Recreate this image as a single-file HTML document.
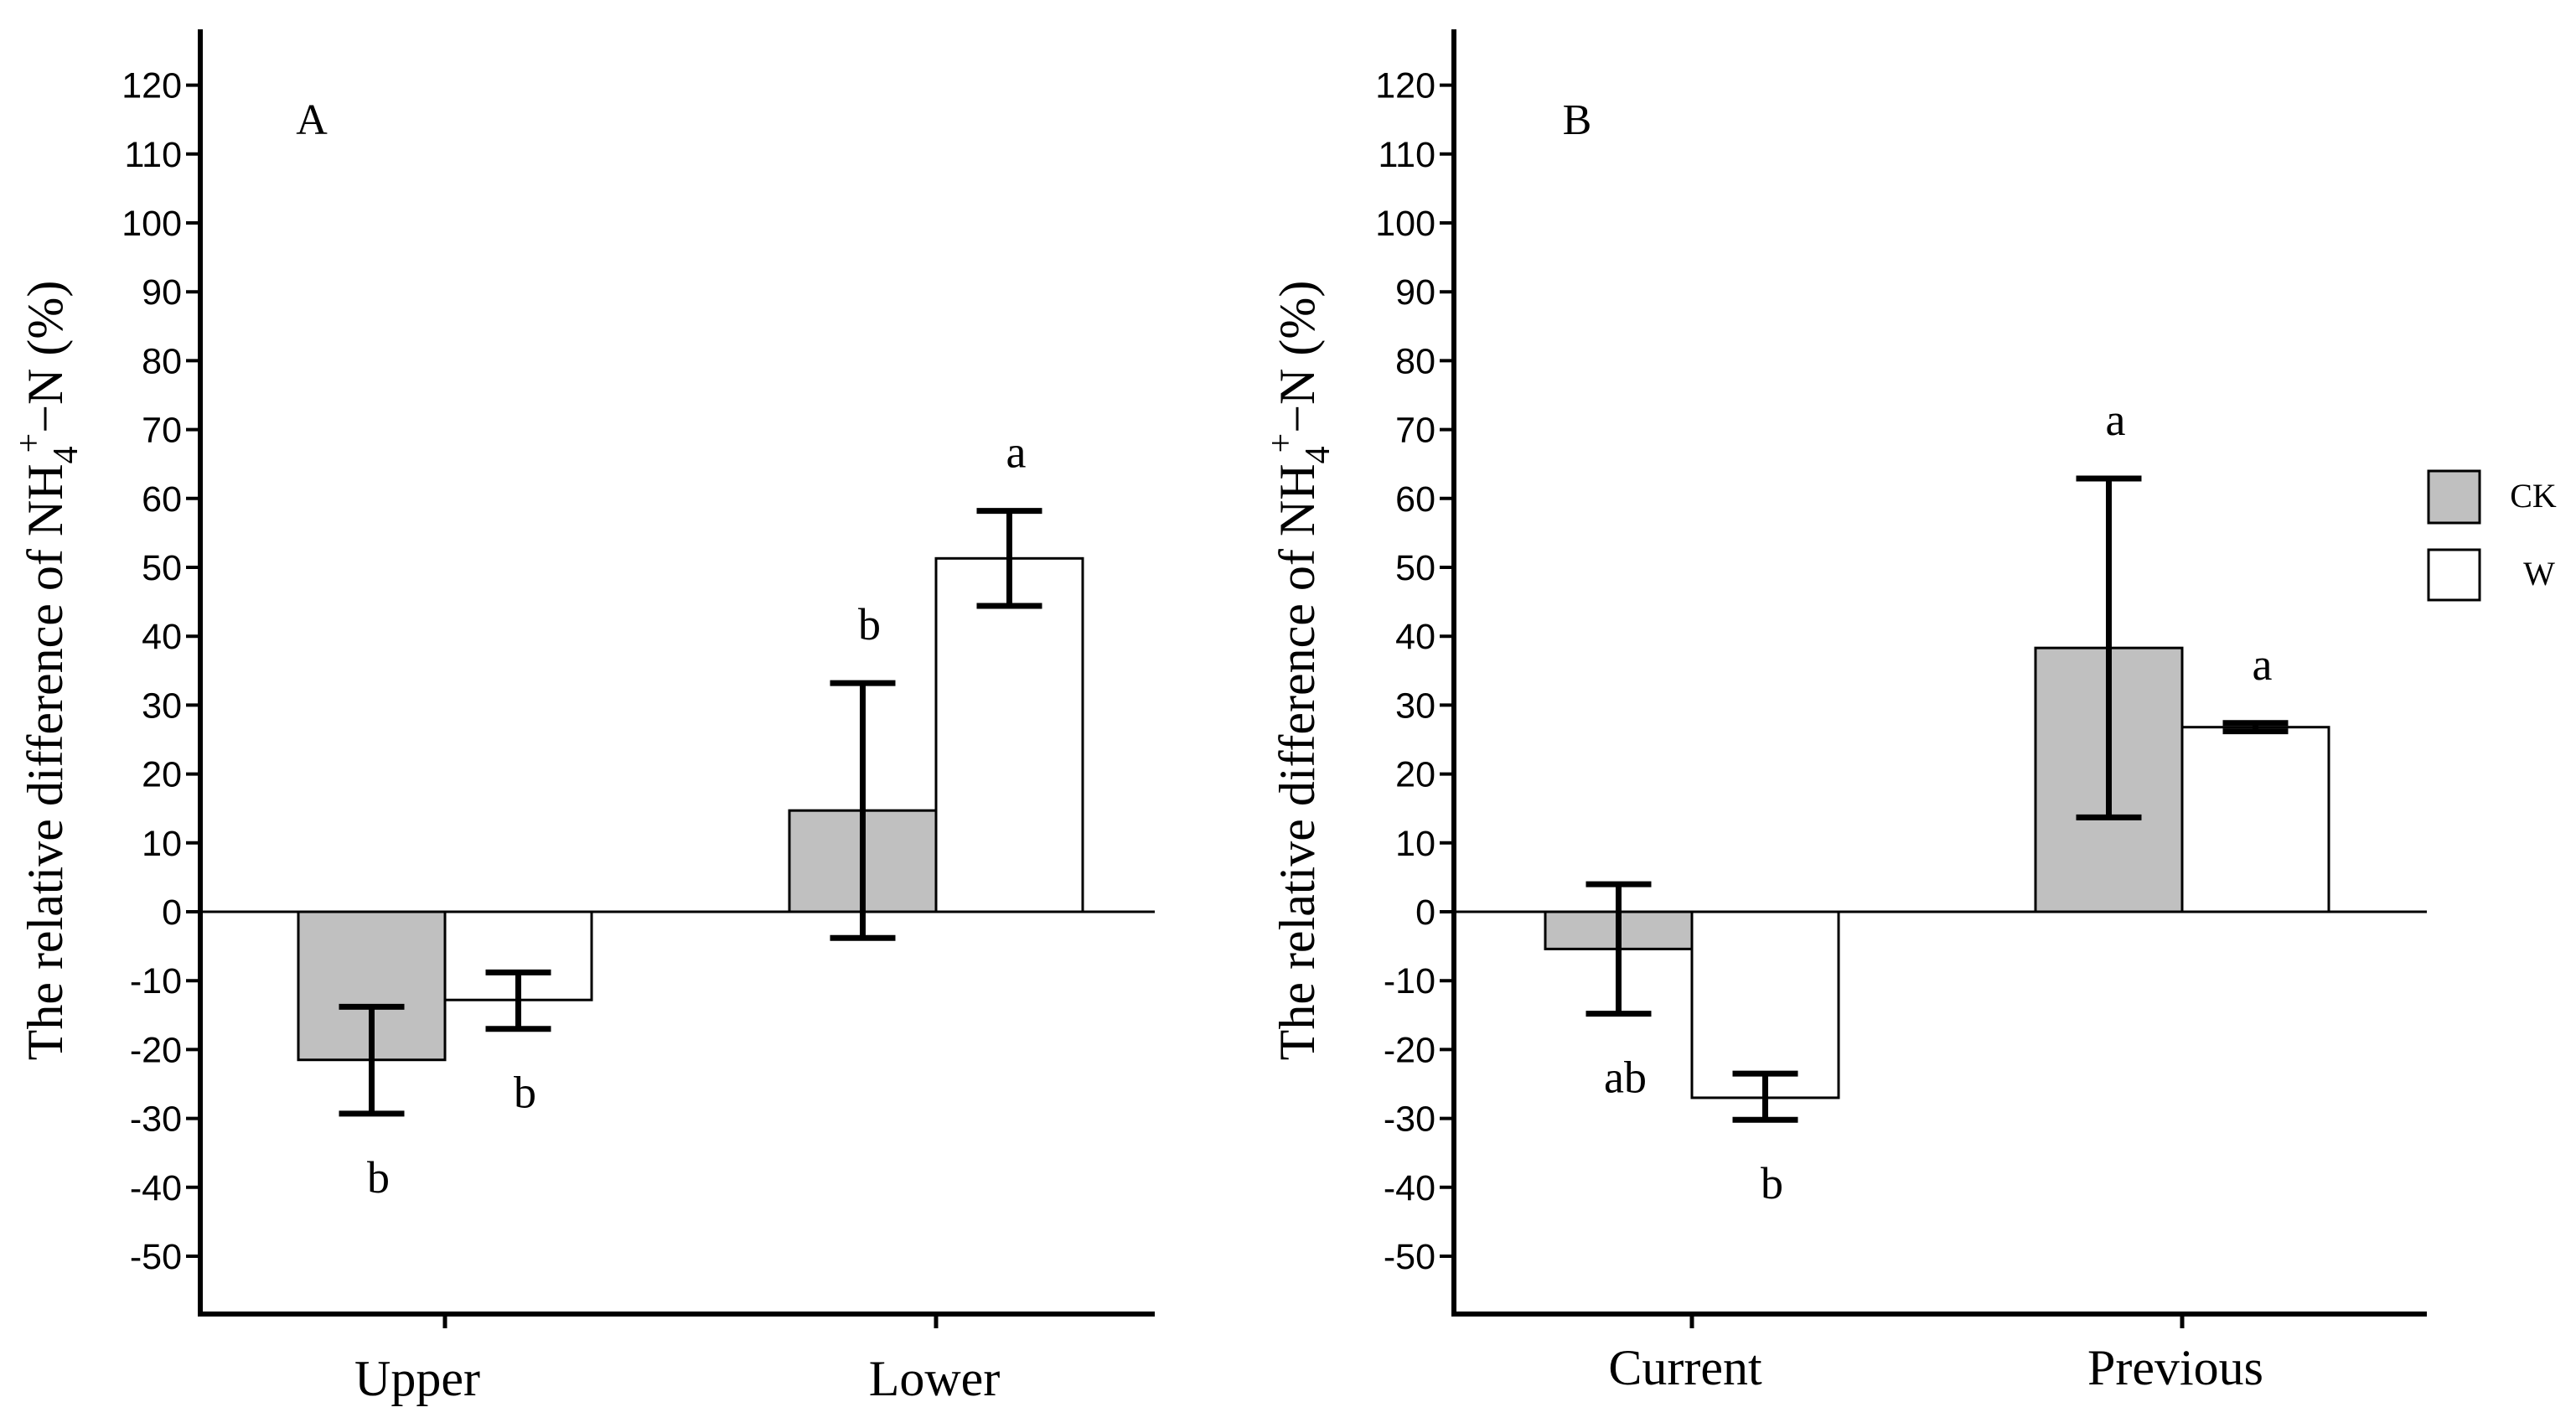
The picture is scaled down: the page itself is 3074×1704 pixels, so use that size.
<!DOCTYPE html>
<html><head><meta charset="utf-8"><style>html,body{margin:0;padding:0;background:#fff}svg{display:block}</style></head>
<body>
<svg id="chart" xmlns="http://www.w3.org/2000/svg" width="3074" height="1704" viewBox="0 0 3074 1704"></svg>
<script>
const ticks = [120,110,100,90,80,70,60,50,40,30,20,10,0,-10,-20,-30,-40,-50];
const catsA = ["Upper","Lower"];
const ckA = [-21.5, 14.7];
const ckAlo = [-29.3, -3.8];
const ckAhi = [-13.8, 33.2];
const wA = [-12.8, 51.3];
const wAlo = [-17.0, 44.4];
const wAhi = [-8.8, 58.2];
const ckAsig = ["b","b"];
const wAsig = ["b","a"];
const catsB = ["Current","Previous"];
const ckB = [-5.4, 38.3];
const ckBlo = [-14.8, 13.7];
const ckBhi = [4.0, 62.9];
const wB = [-27.0, 26.8];
const wBlo = [-30.2, 26.2];
const wBhi = [-23.5, 27.4];
const ckBsig = ["ab","a"];
const wBsig = ["b","a"];

const NS="http://www.w3.org/2000/svg";
const svg=document.getElementById('chart');
function mk(tag,attrs,parent,text){const e=document.createElementNS(NS,tag);for(const k in attrs)e.setAttribute(k,attrs[k]);if(text!==undefined)e.textContent=text;(parent||svg).appendChild(e);return e;}
const zeroY=1088, per10=82.2;
function y(v){return zeroY - v/10*per10;}

function panel(cfg){
  const g=mk('g',{});
  
  
  const ax=cfg.axisX;
  const ya=mk('line',{x1:ax,y1:35,x2:ax,y2:1571,stroke:'#000','stroke-width':6},g);
  
  
  const xa=mk('line',{x1:ax-3,y1:1568,x2:cfg.endX,y2:1568,stroke:'#000','stroke-width':6},g);
  
  
  ticks.forEach(t=>{
    mk('line',{x1:ax-17,y1:y(t),x2:ax,y2:y(t),stroke:'#000','stroke-width':4},g);
    const tl=mk('text',{x:ax-22,y:y(t)+15,'text-anchor':'end','font-family':'Liberation Sans, sans-serif','font-size':43},g,String(t));
    
    
  });
  const zl=mk('line',{x1:ax,y1:zeroY,x2:cfg.endX,y2:zeroY,stroke:'#000','stroke-width':3},g);
  
  
  const tt=mk('text',{transform:`translate(${cfg.titleX},800) rotate(-90)`,'text-anchor':'middle','font-family':'Liberation Serif, serif','font-size':60},g);
  
  
  tt.innerHTML='The relative difference of NH<tspan font-size="42" dy="18">4</tspan><tspan font-size="42" dy="-44" dx="-8">+</tspan><tspan dy="26">−N (%)</tspan>';
  const pl=mk('text',{x:cfg.letterX,y:160,'text-anchor':'middle','font-family':'Liberation Serif, serif','font-size':52},g,cfg.letter);
  
  
  const bw=175;
  cfg.cats.forEach((c,i)=>{
    const cx=cfg.centers[i];
    mk('line',{x1:cx,y1:1568,x2:cx,y2:1585,stroke:'#000','stroke-width':5},g);
    const cl=mk('text',{x:cfg.labelX[i],y:cfg.labelY,'text-anchor':'middle','font-family':'Liberation Serif, serif','font-size':60},g,c);
    
    
    const series=[{v:cfg.ck,lo:cfg.cklo,hi:cfg.ckhi,s:cfg.cks,fill:'#c0c0c0',x0:cx-bw,nm:'ck'},{v:cfg.w,lo:cfg.wlo,hi:cfg.whi,s:cfg.ws,fill:'#ffffff',x0:cx,nm:'w'}];
    series.forEach(se=>{
      const v=se.v[i];
      const top=Math.min(y(v),zeroY), h=Math.abs(y(v)-zeroY);
      const b=mk('rect',{x:se.x0,y:top,width:bw,height:h,fill:se.fill,stroke:'#000','stroke-width':3},g);
      
      
      const mx=se.x0+bw/2, lo=y(se.lo[i]), hi=y(se.hi[i]);
      const eb=mk('g',{stroke:'#000','stroke-width':7},g);
      
      
      mk('line',{x1:mx,y1:lo,x2:mx,y2:hi},eb);
      mk('line',{x1:mx-39,y1:lo,x2:mx+39,y2:lo},eb);
      mk('line',{x1:mx-39,y1:hi,x2:mx+39,y2:hi},eb);
      const ly = v>=0 ? hi-52 : lo+94;
      const sl=mk('text',{x:mx+8,y:ly,'text-anchor':'middle','font-family':'Liberation Serif, serif','font-size':54},g,se.s[i]);
      
      
    });
  });
}
panel({name:'panel-a',axisX:239,endX:1378,titleX:74,letter:'A',letterX:372,cats:catsA,centers:[531,1117],labelX:[498,1115],labelY:1665,
  ck:ckA,cklo:ckAlo,ckhi:ckAhi,cks:ckAsig,w:wA,wlo:wAlo,whi:wAhi,ws:wAsig});
panel({name:'panel-b',axisX:1735,endX:2896,titleX:1568,letter:'B',letterX:1882,cats:catsB,centers:[2019,2604],labelX:[2011,2596],labelY:1652,
  ck:ckB,cklo:ckBlo,ckhi:ckBhi,cks:ckBsig,w:wB,wlo:wBlo,whi:wBhi,ws:wBsig});

const lg=mk('g',{});


const l1=mk('rect',{x:2898,y:562,width:61,height:62,fill:'#c0c0c0',stroke:'#000','stroke-width':3},lg);


const t1=mk('text',{x:3023,y:605,'text-anchor':'middle','font-family':'Liberation Serif, serif','font-size':40},lg,'CK');


const l2=mk('rect',{x:2898,y:656,width:61,height:60,fill:'#fff',stroke:'#000','stroke-width':3},lg);


const t2=mk('text',{x:3030,y:698,'text-anchor':'middle','font-family':'Liberation Serif, serif','font-size':40},lg,'W');


</script>
</body></html>
